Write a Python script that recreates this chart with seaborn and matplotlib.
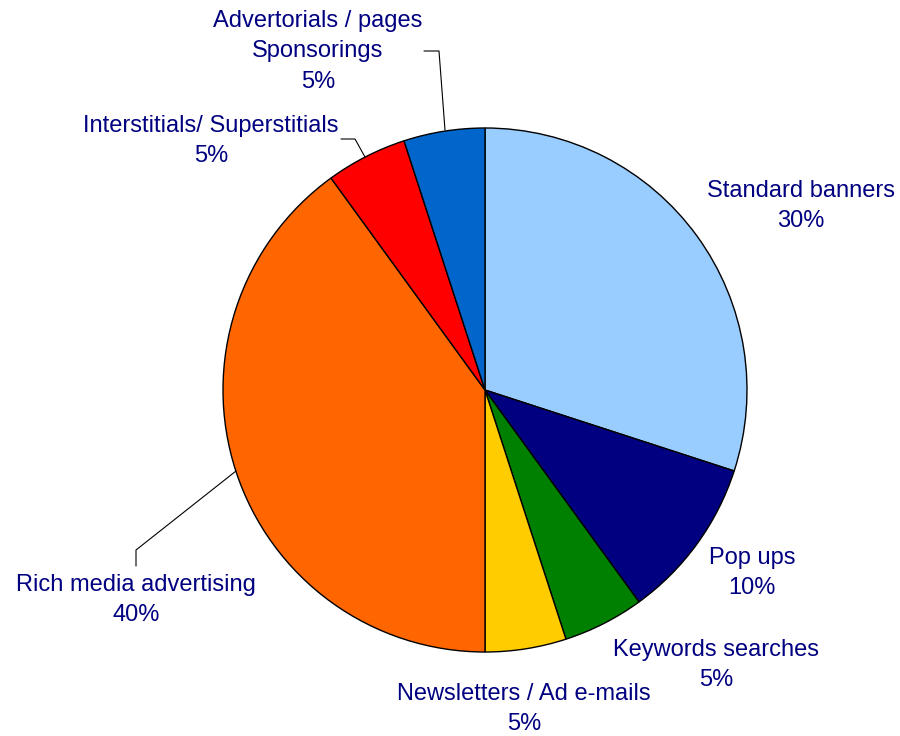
import matplotlib
matplotlib.use("Agg")
import matplotlib.pyplot as plt
import seaborn as sns

sns.set_theme(style="white")
plt.rcParams["font.family"] = ["Liberation Sans", "DejaVu Sans"]

categories = [
    "Standard banners",
    "Pop ups",
    "Keywords searches",
    "Newsletters / Ad e-mails",
    "Rich media advertising",
    "Interstitials/ Superstitials",
    "Advertorials / pages\nSponsorings",
]
shares = [30, 10, 5, 5, 40, 5, 5]
colors = ["#99CCFF", "#000080", "#008000", "#FFCC00", "#FF6600", "#FF0000", "#0066CC"]

# label block centres in figure pixels (x from left, y from top)
label_pos = [(801, 206), (752, 573), (716, 665), (524, 709), (136, 600), (211, 141), (318, 51)]

W, H = 900, 736
fig = plt.figure(figsize=(W / 100, H / 100), dpi=100)
ax = fig.add_axes([0, 0, 1, 1])

cx, cy, r = 485, H - 390, 262
ax.pie(shares, colors=colors, startangle=90, counterclock=False,
       center=(cx, cy), radius=r, frame=True,
       wedgeprops=dict(edgecolor="black", linewidth=1.0))
ax.set_xlim(0, W)
ax.set_ylim(0, H)
ax.set_aspect("equal")
ax.axis("off")

text_color = "#000080"
for name, val, (px, py) in zip(categories, shares, label_pos):
    ax.text(px, H - py, f"{name}\n{val}%", ha="center", va="center",
            fontsize=17, color=text_color, linespacing=1.5)

# leader lines for the labels sitting away from their slices
leaders = [
    [(424, 51), (439, 51), (445, 130)],
    [(341, 139), (355, 139), (365, 157)],
    [(236, 471), (136, 550), (136, 566)],
]
for pts in leaders:
    xs = [p[0] for p in pts]
    ys = [H - p[1] for p in pts]
    ax.plot(xs, ys, color="black", linewidth=0.8)

fig.savefig("out.png", dpi=100)
